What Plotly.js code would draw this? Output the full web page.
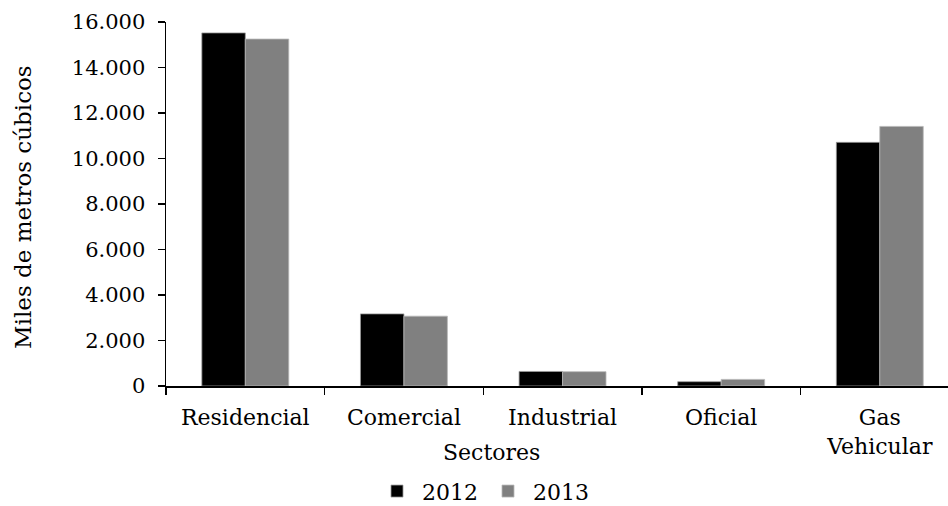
<!DOCTYPE html>
<html>
<head>
<meta charset="utf-8">
<script src="https://cdn.plot.ly/plotly-3.0.1.min.js"></script>
<style>html,body{margin:0;padding:0;background:#fff;}</style>
</head>
<body>
<div id="chart" style="width:948px;height:506px;"></div>
<script>
const categories = ["Residencial", "Comercial", "Industrial", "Oficial", "Gas<br>Vehicular"];
const values2012 = [15520, 3170, 640, 190, 10710];
const values2013 = [15250, 3070, 630, 290, 11410];
const seriesNames = ["2012", "2013"];

const FONT = "DejaVu Serif, serif";
const FS = 22;
const L = 166, T = 21.7, B = 506 - 386.5, W = 948 - L, H = 506 - T - B;
const px = x => (x - L) / W;
const py = y => (T + H - y) / H;

const traces = [
  {type: "bar", name: seriesNames[0], x: categories, y: values2012,
   marker: {color: "#000000", line: {color: "#9a9a9a", width: 0.8}}},
  {type: "bar", name: seriesNames[1], x: categories, y: values2013,
   marker: {color: "#808080", line: {color: "#b8b8b8", width: 0.8}}}
];

const layout = {
  width: 948, height: 506,
  margin: {l: L, r: 0, t: T, b: B, pad: 0, autoexpand: false},
  paper_bgcolor: "#fff", plot_bgcolor: "#fff",
  separators: ",.",
  font: {family: FONT, size: FS, color: "#000"},
  barmode: "group", bargap: 0.452, bargroupgap: 0,
  showlegend: true,
  legend: {orientation: "h", x: px(483), xanchor: "center", y: py(492), yanchor: "middle",
           font: {family: FONT, size: FS, color: "#000"}, itemwidth: 40, tracegroupgap: 0,
           bgcolor: "rgba(0,0,0,0)"},
  xaxis: {type: "category", range: [-0.5, 4.43], tickson: "boundaries",
          ticks: "outside", ticklen: 7, tickwidth: 1.3, tickcolor: "#000",
          showline: true, linecolor: "#000", linewidth: 1.5, ticklabelstandoff: 11,
          showgrid: false, zeroline: false, fixedrange: true,
          tickfont: {family: FONT, size: FS, color: "#000"}},
  yaxis: {range: [0, 16000], dtick: 2000, tick0: 0, tickformat: ",d",
          ticks: "outside", ticklen: 7, tickwidth: 1.3, tickcolor: "#000",
          showline: true, linecolor: "#000", linewidth: 1.5,
          showgrid: false, zeroline: false, fixedrange: true, ticklabelstandoff: 8,
          tickfont: {family: FONT, size: 21, color: "#000"}},
  annotations: [
    {text: "Sectores", xref: "paper", yref: "paper", x: px(491), y: py(453),
     xanchor: "center", yanchor: "middle", showarrow: false,
     font: {family: FONT, size: FS, color: "#000"}},
    {text: "Miles de metros cúbicos", xref: "paper", yref: "paper", x: px(23), y: py(207),
     xanchor: "center", yanchor: "middle", showarrow: false, textangle: -90,
     font: {family: FONT, size: 23, color: "#000"}}
  ]
};

Plotly.newPlot("chart", traces, layout, {displayModeBar: false, staticPlot: true});
</script>
</body>
</html>
